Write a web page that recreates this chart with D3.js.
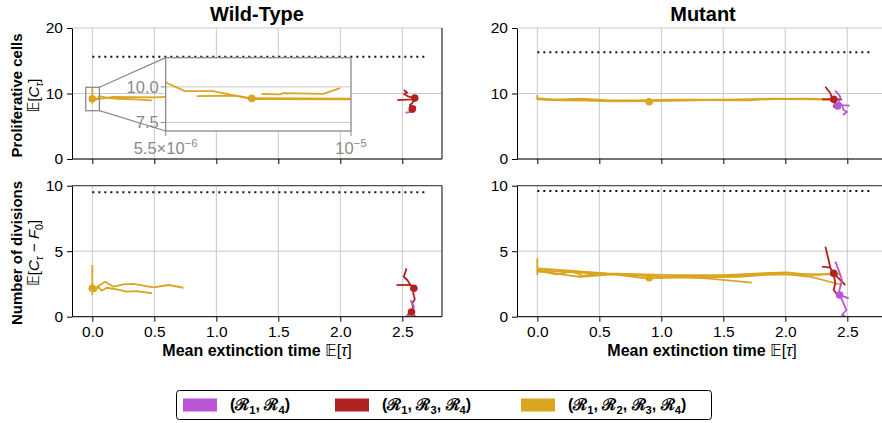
<!DOCTYPE html>
<html>
<head>
<meta charset="utf-8">
<script src="https://cdn.jsdelivr.net/npm/d3@7"></script>
<style>
  body { margin: 0; background: #fff; }
  text { font-family: "Liberation Sans", Arial, sans-serif; }
</style>
</head>
<body>
<svg id="fig" width="882" height="423"></svg>
<script>
// ---- data ----
var xTicks = [0, 0.5, 1.0, 1.5, 2.0, 2.5];
var yTicksCells = [0, 10, 20];
var yTicksDiv = [0, 5, 10];
var colTitles = ["Wild-Type", "Mutant"];
// dotted reference level per panel: [cells, divisions]
var refWT = [15.6, 9.5];
var refMut = [16.3, 9.6];

// trajectories: [group, points]
var wtCellsLines = [
  ["r1234", [[0, 10.8], [0, 8.5]]],
  ["r1234", [[0, 9.2], [0.03, 9.05], [0.06, 9.6], [0.12, 9.35], [0.2, 9.2], [0.35, 9.1], [0.48, 8.95]]],
  ["r1234", [[0, 9.3], [0.04, 9.15], [0.1, 9.3], [0.17, 9.5], [0.3, 9.45], [0.5, 9.4], [0.73, 9.6]]],
  ["r134", [[2.459, 9.0], [2.58, 9.11], [2.6, 9.27]]],
  ["r134", [[2.512, 10.53], [2.54, 10.12], [2.512, 9.92], [2.552, 9.51], [2.6, 9.27], [2.58, 8.5], [2.56, 8.24], [2.593, 7.74], [2.566, 7.22]]],
  ["r14", [[2.526, 7.07], [2.593, 7.22], [2.606, 7.98], [2.585, 7.8]]]
];
var wtCellsMeans = [["r1234", 0, 9.2], ["r134", 2.6, 9.3], ["r134", 2.58, 7.65]];

var wtDivLines = [
  ["r1234", [[0, 3.95], [0, 1.66]]],
  ["r1234", [[0, 2.17], [0.022, 2.17], [0.062, 2.42], [0.103, 2.67], [0.17, 2.29], [0.25, 2.47], [0.331, 2.5], [0.493, 2.24], [0.614, 2.42], [0.735, 2.21]]],
  ["r1234", [[0, 2.1], [0.022, 1.95], [0.048, 2.29], [0.076, 1.98], [0.116, 2.21], [0.197, 2.09], [0.278, 1.91], [0.358, 1.96], [0.48, 1.79]]],
  ["r14", [[2.566, 1.27], [2.593, 0.76], [2.58, 0.26], [2.526, 0.0]]],
  ["r14", [[2.58, 0.26], [2.607, 0.0]]],
  ["r134", [[2.453, 2.42], [2.566, 2.42]]],
  ["r134", [[2.534, 3.69], [2.512, 3.05], [2.54, 2.8], [2.566, 2.42], [2.593, 2.17], [2.588, 1.78], [2.601, 1.33], [2.58, 1.02], [2.588, 0.51], [2.574, 0.31], [2.54, 0.13]]]
];
var wtDivMeans = [["r1234", 0, 2.17], ["r134", 2.593, 2.17], ["r134", 2.574, 0.35]];

var mutCellsLines = [
  ["r1234", [[0, 9.77], [0, 9.0]]],
  ["r1234", [[0, 9.27], [0.1, 9.15], [0.288, 9.11], [0.423, 8.95], [0.611, 8.8], [0.9, 8.85], [1.366, 9.0], [1.716, 9.0], [1.906, 9.16], [2.175, 9.2], [2.417, 9.11], [2.444, 9.0]]],
  ["r1234", [[0, 9.1], [0.15, 9.0], [0.35, 9.2], [0.55, 9.0], [0.8, 8.95], [1.1, 9.05], [1.5, 9.05], [1.9, 9.2], [2.2, 9.1], [2.43, 9.05]]],
  ["r1234", [[0, 9.2], [0.2, 8.95], [0.45, 8.9], [0.7, 8.85], [1.0, 8.95], [1.35, 9.0], [1.73, 8.95]]],
  ["r134", [[2.296, 9.11], [2.457, 9.1]]],
  ["r134", [[2.323, 11.04], [2.363, 10.03], [2.377, 9.27], [2.411, 8.9], [2.39, 7.98], [2.43, 7.89]]],
  ["r14", [[2.403, 10.43], [2.444, 9.51], [2.43, 8.75], [2.457, 8.24], [2.519, 8.14]]],
  ["r14", [[2.457, 8.24], [2.47, 7.48], [2.498, 7.22], [2.466, 6.72]]]
];
var mutCellsMeans = [["r1234", 0.902, 8.75], ["r134", 2.39, 9.11], ["r14", 2.422, 8.1]];

var mutDivLines = [
  ["r1234", [[0, 4.46], [0, 3.18]]],
  ["r1234", [[0, 3.69], [0.288, 3.49], [0.558, 3.31], [1.096, 3.18], [1.5, 3.18], [1.797, 3.31], [2.013, 3.39], [2.228, 3.18], [2.417, 3.31], [2.44, 3.25]]],
  ["r1234", [[0, 3.56], [0.423, 3.31], [0.827, 3.13], [1.366, 2.93], [1.73, 2.6]]],
  ["r1234", [[0, 3.45], [0.1, 3.39], [0.235, 3.18], [0.342, 3.05], [0.611, 3.24], [0.881, 2.93], [1.2, 3.0], [1.635, 3.05], [1.95, 3.3], [2.2, 3.05], [2.457, 2.42]]],
  ["r1234", [[0, 3.62], [0.073, 3.39], [0.154, 3.24], [0.288, 3.46], [0.369, 3.11], [0.5, 3.3], [0.827, 3.18], [0.99, 3.05], [1.3, 3.1], [1.8, 3.2], [2.3, 3.25], [2.43, 3.2]]],
  ["r134", [[2.323, 5.34], [2.349, 4.33], [2.363, 3.74], [2.377, 3.44], [2.39, 3.31], [2.403, 2.55], [2.39, 2.04], [2.43, 1.53]]],
  ["r134", [[2.296, 3.82], [2.363, 3.74]]],
  ["r134", [[2.39, 3.31], [2.484, 2.42]]],
  ["r14", [[2.403, 4.2], [2.43, 3.56], [2.457, 2.8], [2.43, 1.79], [2.438, 1.66], [2.511, 1.4]]],
  ["r14", [[2.438, 1.66], [2.47, 1.02], [2.492, 0.51], [2.457, 0.13], [2.48, 0.05]]]
];
var mutDivMeans = [["r1234", 0.902, 2.98], ["r134", 2.39, 3.31], ["r14", 2.438, 1.66]];

// inset (wild-type cells, log x)
var insetXDomain = [5.5e-6, 1e-5];
var insetYDomain = [6.9, 12.05];
var insetYTicks = [7.5, 10.0];
var insetLines = [
  [[5.5e-6, 10.31], [5.85e-6, 9.70], [6.41e-6, 9.70], [7.26e-6, 9.14], [1e-5, 9.12]],
  [[6.08e-6, 9.35], [6.9e-6, 9.38], [7.26e-6, 9.2], [1e-5, 9.17]],
  [[7.49e-6, 9.51], [7.95e-6, 9.47], [8.04e-6, 9.56], [9.15e-6, 9.51], [9.65e-6, 9.91]]
];
var insetMean = [7.26e-6, 9.19];
// zoomed region marked on the main axes: [x0, x1, y0, y1]
var zoomBox = [-0.053, 0.057, 7.37, 10.95];

var groups = ["r14", "r134", "r1234"];
var colors = { r14: "#BA55D3", r134: "#B22222", r1234: "#DAA520" };
var drawOrder = ["r1234", "r134", "r14"];

// ---- layout ----
var svg = d3.select("#fig");
var xDomain = [-0.164, 2.82];
var cols = [{ x0: 72, x1: 442 }, { x0: 517, x1: 887 }];
var rows = [{ y0: 28, y1: 159, dom: [0, 20], ticks: yTicksCells },
            { y0: 185.7, y1: 316.7, dom: [0, 10], ticks: yTicksDiv }];
var gridColor = "#c9c9c9";

var panelData = [
  [{ lines: wtCellsLines, means: wtCellsMeans, ref: refWT[0] }, { lines: mutCellsLines, means: mutCellsMeans, ref: refMut[0] }],
  [{ lines: wtDivLines, means: wtDivMeans, ref: refWT[1] }, { lines: mutDivLines, means: mutDivMeans, ref: refMut[1] }]
];

// write text made of pieces (sub/superscripts, italics, fonts)
function addParts(sel, parts, size) {
  var shift = 0;
  parts.forEach(function(p) {
    var ts = sel.append("tspan").text(p.t);
    var target = 0;
    if (p.sub) { ts.attr("font-size", size * 0.7); target = size * 0.28; }
    else if (p.sup) { ts.attr("font-size", size * 0.7); target = -size * 0.42; }
    var dy = target - shift;
    shift = target;
    if (dy) ts.attr("dy", dy);
    if (p.i) ts.attr("font-style", "italic");
    if (p.f) ts.attr("font-family", p.f);
    if (p.w) ts.attr("font-weight", p.w);
  });
}

var bbE = { t: "\u{1D53C}", f: "DejaVu Sans", w: "normal" };

function drawPanel(r, c) {
  var col = cols[c], row = rows[r], pd = panelData[r][c];
  var x = d3.scaleLinear().domain(xDomain).range([col.x0, col.x1]);
  var y = d3.scaleLinear().domain(row.dom).range([row.y1, row.y0]);
  var g = svg.append("g");

  // grid
  g.selectAll(".vg").data(xTicks).enter().append("line")
    .attr("x1", function(d) { return x(d); }).attr("x2", function(d) { return x(d); })
    .attr("y1", row.y0).attr("y2", row.y1)
    .attr("stroke", gridColor).attr("stroke-width", 1);
  g.selectAll(".hg").data(row.ticks).enter().append("line")
    .attr("x1", col.x0).attr("x2", col.x1)
    .attr("y1", function(d) { return y(d); }).attr("y2", function(d) { return y(d); })
    .attr("stroke", gridColor).attr("stroke-width", 1);

  // reference level
  g.append("line")
    .attr("x1", x(0)).attr("x2", x(2.69))
    .attr("y1", y(pd.ref)).attr("y2", y(pd.ref))
    .attr("stroke", "#111").attr("stroke-width", 2)
    .attr("stroke-dasharray", "2,4");

  // trajectories
  var line = d3.line().x(function(d) { return x(d[0]); }).y(function(d) { return y(d[1]); });
  drawOrder.forEach(function(grp) {
    pd.lines.filter(function(l) { return l[0] === grp; }).forEach(function(l) {
      g.append("path").attr("d", line(l[1]))
        .attr("fill", "none").attr("stroke", colors[grp])
        .attr("stroke-width", 1.8).attr("stroke-linejoin", "round");
    });
  });
  drawOrder.forEach(function(grp) {
    pd.means.filter(function(m) { return m[0] === grp; }).forEach(function(m) {
      g.append("circle").attr("cx", x(m[1])).attr("cy", y(m[2])).attr("r", 3.8)
        .attr("fill", colors[grp]);
    });
  });

  // axes
  var xAxis = d3.axisBottom(x).tickValues(xTicks).tickSize(5).tickSizeOuter(0).tickPadding(4)
    .tickFormat(r === 1 ? d3.format(".1f") : function() { return ""; });
  var gx = g.append("g").attr("transform", "translate(0," + row.y1 + ")").call(xAxis);
  var yAxis = d3.axisLeft(y).tickValues(row.ticks).tickSize(5).tickSizeOuter(0).tickPadding(4)
    .tickFormat(d3.format("d"));
  var gy = g.append("g").attr("transform", "translate(" + col.x0 + ",0)").call(yAxis);
  [gx, gy].forEach(function(a) {
    a.selectAll("text").attr("font-size", 15.5).attr("fill", "#000")
      .attr("font-family", "Liberation Sans, Arial, sans-serif");
    a.selectAll("line").attr("stroke", "#000");
    a.select(".domain").attr("stroke", "#000");
  });
  gx.select(".domain").attr("d", "M" + col.x0 + ",0H" + col.x1);
  // right spine, and top spine on the lower row
  g.append("line").attr("x1", col.x1).attr("x2", col.x1).attr("y1", row.y0).attr("y2", row.y1)
    .attr("stroke", "#000").attr("stroke-width", 1);
  if (r === 1) {
    g.append("line").attr("x1", col.x0).attr("x2", col.x1).attr("y1", row.y0).attr("y2", row.y0)
      .attr("stroke", "#333").attr("stroke-width", 1);
  }
  return { x: x, y: y };
}

var sc = [[drawPanel(0, 0), drawPanel(0, 1)], [drawPanel(1, 0), drawPanel(1, 1)]];

// titles
[257, 703].forEach(function(cx, i) {
  svg.append("text").attr("x", cx).attr("y", 21).attr("text-anchor", "middle")
    .attr("font-size", 20).attr("font-weight", "bold").text(colTitles[i]);
});

// y labels
function yLabel(cy, main, mathParts) {
  svg.append("text").attr("transform", "translate(22," + cy + ") rotate(-90)")
    .attr("text-anchor", "middle").attr("font-size", 15).attr("font-weight", "bold").text(main);
  var t = svg.append("text").attr("transform", "translate(39," + cy + ") rotate(-90)")
    .attr("text-anchor", "middle").attr("font-size", 15);
  addParts(t, mathParts, 15);
}
yLabel(95.5, "Proliferative cells", [bbE, { t: "[" }, { t: "C", i: true }, { t: "\u03C4", i: true, sub: true }, { t: "]" }]);
yLabel(253, "Number of divisions", [bbE, { t: "[" }, { t: "C", i: true }, { t: "\u03C4", i: true, sub: true },
  { t: " \u2212 " }, { t: "F", i: true }, { t: "0", sub: true }, { t: "]" }]);

// x labels
[257, 702].forEach(function(cx) {
  var t = svg.append("text").attr("x", cx).attr("y", 356).attr("text-anchor", "middle")
    .attr("font-size", 16).attr("font-weight", "bold");
  addParts(t, [{ t: "Mean extinction time " }, bbE, { t: "[", w: "normal" }, { t: "\u03C4", i: true, w: "normal" }, { t: "]", w: "normal" }], 16);
});

// ---- inset ----
(function() {
  var main = sc[0][0];
  var ix0 = 165.7, ix1 = 351, iy0 = 57.7, iy1 = 131;
  var ix = d3.scaleLog().domain(insetXDomain).range([ix0, ix1]);
  var iy = d3.scaleLinear().domain(insetYDomain).range([iy1, iy0]);
  var inkGray = "#8a8a8a";

  // zoom box and connectors on main axes
  var bx0 = main.x(zoomBox[0]), bx1 = main.x(zoomBox[1]);
  var by0 = main.y(zoomBox[3]), by1 = main.y(zoomBox[2]);
  svg.append("rect").attr("x", bx0).attr("y", by0).attr("width", bx1 - bx0).attr("height", by1 - by0)
    .attr("fill", "none").attr("stroke", inkGray).attr("stroke-width", 1.3);
  svg.append("line").attr("x1", bx1).attr("y1", by0).attr("x2", ix0).attr("y2", iy0)
    .attr("stroke", inkGray).attr("stroke-width", 1.3);
  svg.append("line").attr("x1", bx1).attr("y1", by1).attr("x2", ix0).attr("y2", iy1)
    .attr("stroke", inkGray).attr("stroke-width", 1.3);

  var g = svg.append("g");
  g.append("rect").attr("x", ix0).attr("y", iy0).attr("width", ix1 - ix0).attr("height", iy1 - iy0)
    .attr("fill", "#fff");
  svg.append("clipPath").attr("id", "insetClip").append("rect")
    .attr("x", ix0).attr("y", iy0).attr("width", ix1 - ix0).attr("height", iy1 - iy0);

  g.selectAll(".ig").data(insetYTicks).enter().append("line")
    .attr("x1", ix0).attr("x2", ix1)
    .attr("y1", function(d) { return iy(d); }).attr("y2", function(d) { return iy(d); })
    .attr("stroke", gridColor).attr("stroke-width", 1);

  var line = d3.line().x(function(d) { return ix(d[0]); }).y(function(d) { return iy(d[1]); });
  var clipped = g.append("g").attr("clip-path", "url(#insetClip)");
  insetLines.forEach(function(l) {
    clipped.append("path").attr("d", line(l)).attr("fill", "none")
      .attr("stroke", colors.r1234).attr("stroke-width", 1.8);
  });
  clipped.append("circle").attr("cx", ix(insetMean[0])).attr("cy", iy(insetMean[1])).attr("r", 3.8)
    .attr("fill", colors.r1234);

  g.append("rect").attr("x", ix0).attr("y", iy0).attr("width", ix1 - ix0).attr("height", iy1 - iy0)
    .attr("fill", "none").attr("stroke", inkGray).attr("stroke-width", 1.3);

  // y ticks
  insetYTicks.forEach(function(v) {
    g.append("line").attr("x1", ix0 - 5).attr("x2", ix0).attr("y1", iy(v)).attr("y2", iy(v))
      .attr("stroke", inkGray);
    g.append("text").attr("x", ix0 - 7).attr("y", iy(v)).attr("dy", "0.35em")
      .attr("text-anchor", "end").attr("font-size", 16.5).attr("fill", inkGray)
      .text(d3.format(".1f")(v));
  });
  // x ticks at the inset ends
  var xl = [[insetXDomain[0], [{ t: "5.5\u00D710" }, { t: "\u22126", sup: true }]],
            [insetXDomain[1], [{ t: "10" }, { t: "\u22125", sup: true }]]];
  xl.forEach(function(d) {
    g.append("line").attr("x1", ix(d[0])).attr("x2", ix(d[0])).attr("y1", iy1).attr("y2", iy1 + 5)
      .attr("stroke", inkGray);
    var t = g.append("text").attr("x", ix(d[0])).attr("y", iy1 + 23).attr("text-anchor", "middle")
      .attr("font-size", 16.5).attr("fill", inkGray);
    addParts(t, d[1], 16.5);
  });
})();

// ---- legend ----
var legendLabels = [
  [{ t: "(" }, { t: "\u211B" }, { t: "1", sub: true }, { t: ", " }, { t: "\u211B" }, { t: "4", sub: true }, { t: ")" }],
  [{ t: "(" }, { t: "\u211B" }, { t: "1", sub: true }, { t: ", " }, { t: "\u211B" }, { t: "3", sub: true }, { t: ", " }, { t: "\u211B" }, { t: "4", sub: true }, { t: ")" }],
  [{ t: "(" }, { t: "\u211B" }, { t: "1", sub: true }, { t: ", " }, { t: "\u211B" }, { t: "2", sub: true }, { t: ", " }, { t: "\u211B" }, { t: "3", sub: true }, { t: ", " }, { t: "\u211B" }, { t: "4", sub: true }, { t: ")" }]
];
var legendX = [183, 335, 521];
var lg = svg.append("g");
lg.append("rect").attr("x", 176.5).attr("y", 390.5).attr("width", 535).attr("height", 29)
  .attr("rx", 3).attr("fill", "#fff").attr("stroke", "#000").attr("stroke-width", 1);
groups.forEach(function(grp, i) {
  lg.append("rect").attr("x", legendX[i]).attr("y", 398.5).attr("width", 34).attr("height", 13)
    .attr("fill", colors[grp]);
  var t = lg.append("text").attr("x", legendX[i] + 47).attr("y", 410)
    .attr("font-size", 16).attr("font-weight", "bold").attr("font-family", "DejaVu Sans, sans-serif");
  addParts(t, legendLabels[i], 16);
});
</script>
</body>
</html>
